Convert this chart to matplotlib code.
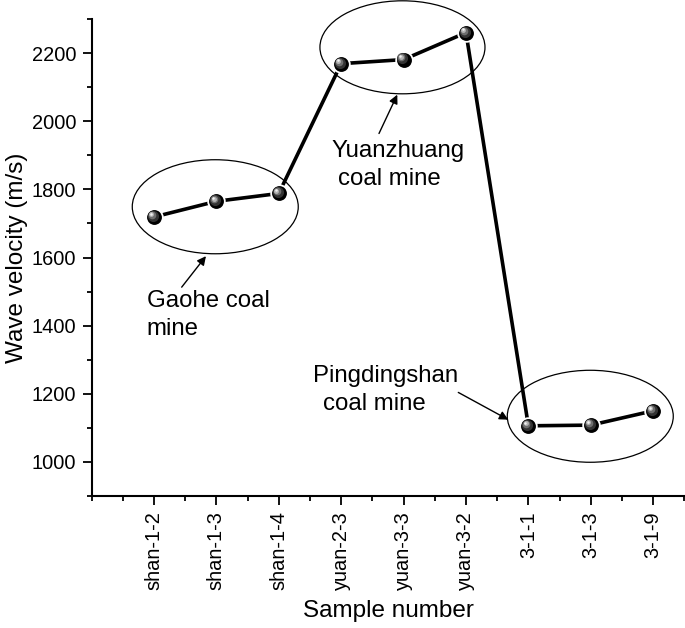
import matplotlib
matplotlib.use("Agg")
import matplotlib.pyplot as plt
from matplotlib.patches import Ellipse
from matplotlib.transforms import offset_copy
from matplotlib.ticker import MultipleLocator

plt.rcParams['font.family'] = ['Liberation Sans', 'DejaVu Sans']

samples = ["shan-1-2", "shan-1-3", "shan-1-4", "yuan-2-3", "yuan-3-3",
           "yuan-3-2", "3-1-1", "3-1-3", "3-1-9"]
velocity = [1719, 1765, 1788, 2169, 2181, 2260, 1106, 1108, 1150]

# annotation groups (ellipse centre/size in data units, label lines, arrows)
group_names = ["Gaohe", "Yuanzhuang", "Pingdingshan"]
ell_center = [(1.982, 1749), (4.982, 2217), (7.992, 1134)]
ell_size = [(2.66, 276), (2.645, 273), (2.66, 270)]
label_lines = [
    [("Gaohe coal", 0.883, 1455), ("mine", 0.883, 1372)],
    [("Yuanzhuang", 3.847, 1895), ("coal mine", 3.949, 1812)],
    [("Pingdingshan", 3.553, 1235), ("coal mine", 3.713, 1152)],
]
arrow_tail = [(1.444, 1513), (4.606, 1964), (5.877, 1204)]
arrow_head = [(1.833, 1604), (4.899, 2078), (6.678, 1124)]

fig = plt.figure(figsize=(6.85, 6.28), dpi=100)
ax = fig.add_axes([0.1337, 0.2102, 0.8663, 0.7595])

x = list(range(1, len(samples) + 1))
ax.plot(x, velocity, color='black', lw=2.6, zorder=3)
ax.plot(x, velocity, ls='none', marker='o', ms=12, mfc='black',
        mec='white', mew=1.3, zorder=4)
# sphere highlight layers
for dx, dy, ms, col in [(-0.8, 0.8, 8, '#333333'), (-1.5, 1.5, 5.5, '#6f6f6f'),
                        (-2.0, 2.0, 3.5, '#b5b5b5'), (-2.3, 2.3, 1.8, '#f2f2f2')]:
    tr = offset_copy(ax.transData, fig=fig, x=dx, y=dy, units='points')
    ax.plot(x, velocity, ls='none', marker='o', ms=ms, mfc=col, mec='none',
            transform=tr, zorder=5)

for (cx, cy), (w, h) in zip(ell_center, ell_size):
    ax.add_patch(Ellipse((cx, cy), w, h, fill=False, ec='black', lw=0.9,
                         clip_on=False, zorder=2))

for lines in label_lines:
    for txt, tx, ty in lines:
        ax.text(tx, ty, txt, fontsize=17.3, ha='left', va='baseline')

for t, h in zip(arrow_tail, arrow_head):
    ax.annotate("", xy=h, xytext=t,
                arrowprops=dict(arrowstyle='-|>', color='black', lw=1.0,
                                mutation_scale=13, shrinkA=0, shrinkB=0))

ax.set_xlim(0, 9.51)
ax.set_ylim(900, 2300)
ax.set_xticks(x)
ax.set_xticklabels(samples, rotation=90)
ax.xaxis.set_minor_locator(MultipleLocator(0.5))
ax.yaxis.set_major_locator(MultipleLocator(200))
ax.yaxis.set_minor_locator(MultipleLocator(100))
ax.set_yticks(range(1000, 2201, 200))

for s in ['top', 'right']:
    ax.spines[s].set_visible(False)
for s in ['left', 'bottom']:
    ax.spines[s].set_linewidth(1.5)

ax.tick_params(which='major', direction='out', length=6.5, width=1.3,
               labelsize=14.4, pad=4.5)
ax.tick_params(which='minor', direction='out', length=3.8, width=1.3)

ax.set_xlabel("Sample number", fontsize=17.5, labelpad=7)
ax.set_ylabel("Wave velocity (m/s)", fontsize=17.5, labelpad=3)

fig.savefig("out.png", dpi=100)
